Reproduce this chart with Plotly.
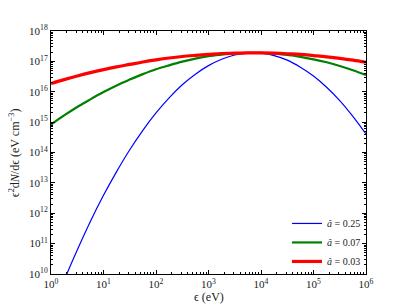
import plotly.graph_objects as go

energy_eV = [1, 1.778, 3.162, 5.623, 10, 17.78, 31.62, 56.23, 100, 177.8, 316.2, 562.3,
             1000, 1778, 3162, 5623, 1e4, 1.778e4, 3.162e4, 5.623e4, 1e5, 1.778e5,
             3.162e5, 5.623e5, 1e6]

spec_a025 = [5.13e8, 6.17e9, 6.17e10, 5.37e11, 3.89e12, 2.34e13, 1.23e14, 5.37e14,
             2.00e15, 6.31e15, 1.70e16, 3.80e16, 7.24e16, 1.17e17, 1.62e17, 1.86e17,
             1.86e17, 1.55e17, 1.10e17, 6.46e16, 3.31e16, 1.41e16, 5.13e15, 1.55e15, 4.07e14]

spec_a007 = [8.32e14, 1.66e15, 3.16e15, 5.62e15, 9.77e15, 1.62e16, 2.51e16, 3.80e16,
             5.50e16, 7.41e16, 9.77e16, 1.23e17, 1.48e17, 1.66e17, 1.82e17, 1.91e17,
             1.91e17, 1.78e17, 1.62e17, 1.41e17, 1.17e17, 9.33e16, 7.08e16, 5.13e16, 3.55e16]

spec_a003 = [1.86e16, 2.51e16, 3.31e16, 4.27e16, 5.37e16, 6.61e16, 7.94e16, 9.55e16,
             1.12e17, 1.29e17, 1.45e17, 1.58e17, 1.70e17, 1.82e17, 1.86e17, 1.91e17,
             1.91e17, 1.86e17, 1.78e17, 1.70e17, 1.55e17, 1.41e17, 1.26e17, 1.10e17, 9.33e16]

series_names = ["<i>â</i> = 0.25", "<i>â</i> = 0.07", "<i>â</i> = 0.03"]

x_tickvals = [1, 10, 100, 1e3, 1e4, 1e5, 1e6]
x_ticktext = ["10<sup>%d</sup>" % i for i in range(0, 7)]
y_tickvals = [10.0 ** i for i in range(10, 19)]
y_ticktext = ["10<sup>%d</sup>" % i for i in range(10, 19)]

FONT = "Liberation Serif"
TXT = "#222222"

fig = go.Figure()
styles = [("#0000ff", 1.2), ("#008000", 2.2), ("#ff0000", 3.2)]
for ys, name, (col, w) in zip([spec_a025, spec_a007, spec_a003], series_names, styles):
    fig.add_trace(go.Scatter(x=energy_eV, y=ys, mode="lines", name=name,
                             line=dict(color=col, width=w, shape="spline")))

axis_common = dict(
    showline=True, linecolor="black", linewidth=1, mirror="allticks",
    ticks="inside", ticklen=4, tickcolor="black", tickwidth=1,
    showgrid=False, zeroline=False, automargin=False,
    tickfont=dict(family=FONT, size=11, color=TXT),
    minor=dict(ticks="inside", ticklen=2, tickcolor="black", dtick="D1", showgrid=False),
)

fig.update_xaxes(type="log", range=[0, 6], tickmode="array", tickvals=x_tickvals,
                 ticktext=x_ticktext, **axis_common)
fig.update_yaxes(type="log", range=[10, 18], tickmode="array", tickvals=y_tickvals,
                 ticktext=y_ticktext, **axis_common)

fig.add_annotation(text="ϵ (eV)", x=0.5, y=-0.058, xref="paper", yref="paper",
                   xanchor="center", yanchor="top", showarrow=False,
                   font=dict(family=FONT, size=12, color=TXT))
fig.add_annotation(text="ϵ<sup>2</sup>d<i>N</i>/dϵ (eV cm<sup>−3</sup>)", x=-0.085, y=0.5,
                   xref="paper", yref="paper", textangle=-90,
                   xanchor="right", yanchor="middle", showarrow=False,
                   font=dict(family=FONT, size=12, color=TXT))

# the page body has an 8px margin, so the figure is sized to fit the 407x305 window
fig.update_layout(
    width=399, height=297,
    margin=dict(l=43, r=41, t=23, b=31),
    paper_bgcolor="white", plot_bgcolor="white",
    showlegend=True,
    legend=dict(x=1.0, y=-0.008, xanchor="right", yanchor="bottom",
                bgcolor="rgba(0,0,0,0)", borderwidth=0,
                font=dict(family=FONT, size=10, color=TXT),
                itemwidth=30, tracegroupgap=0),
)

fig.write_html("out.html")
